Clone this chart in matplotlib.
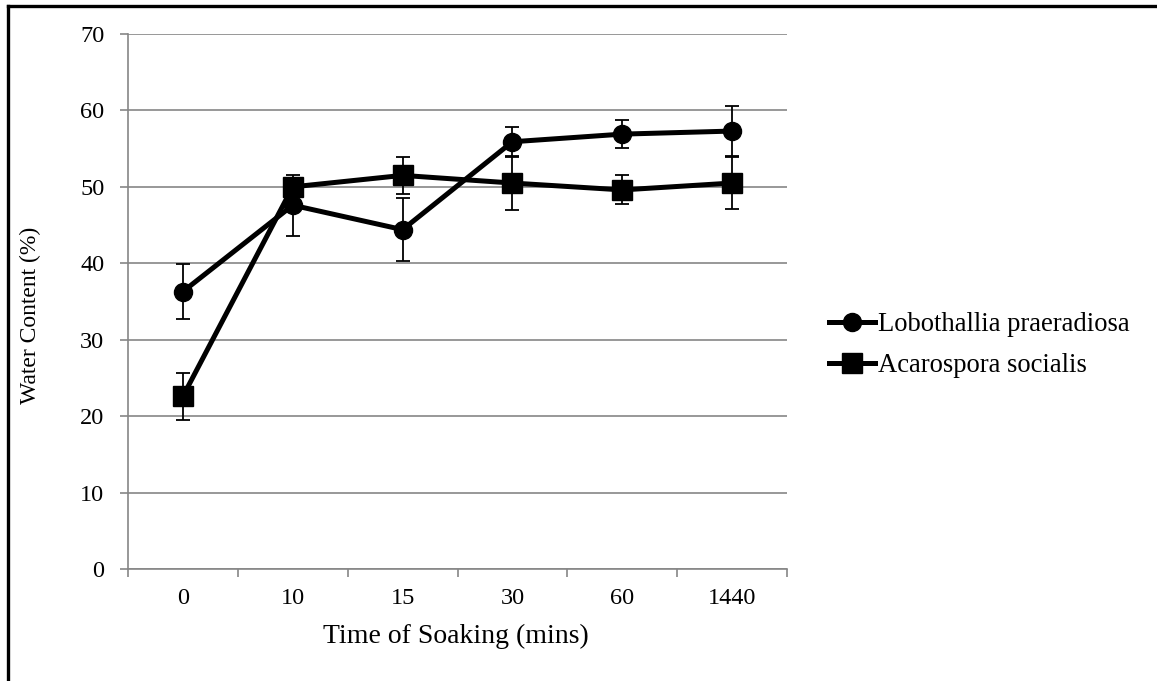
import matplotlib
matplotlib.use("Agg")
import matplotlib.pyplot as plt
from matplotlib.lines import Line2D

# values
times = ["0", "10", "15", "30", "60", "1440"]
lobo_mean = [36.3, 47.6, 44.4, 55.9, 56.9, 57.3]
lobo_err = [3.6, 4.0, 4.1, 1.95, 1.85, 3.3]
acaro_mean = [22.6, 50.0, 51.5, 50.5, 49.6, 50.5]
acaro_err = [3.1, 0.6, 2.4, 3.5, 1.9, 3.4]
yticks = [0, 10, 20, 30, 40, 50, 60, 70]

plt.rcParams["font.family"] = ["Liberation Serif", "DejaVu Serif"]
grey = "#868686"

fig = plt.figure(figsize=(11.57, 6.81), dpi=100)
ax = fig.add_axes([128 / 1157, 1 - 569 / 681, (787 - 128) / 1157, (569 - 34) / 681])

x = list(range(len(times)))
for mean, err, marker, ms, label in [
    (lobo_mean, lobo_err, "o", 13, "Lobothallia praeradiosa"),
    (acaro_mean, acaro_err, "s", 14, "Acarospora socialis"),
]:
    ax.errorbar(x, mean, yerr=err, fmt="none", ecolor="black", elinewidth=1.3,
                capsize=4.7, capthick=1.3, zorder=4)
    ax.plot(x, mean, color="black", lw=3.6, marker=marker, ms=ms,
            label=label, zorder=3)

ax.set_xlim(-0.5, len(times) - 0.5)
ax.set_ylim(0, 70)
ax.set_yticks(yticks)
ax.set_xticks(x)
ax.set_xticklabels(times)
ax.set_xticks([i - 0.5 for i in range(len(times) + 1)], minor=True)
ax.tick_params(axis="x", which="major", length=0, pad=14, labelsize=17.5)
ax.tick_params(axis="x", which="minor", length=6, color=grey, width=1.2)
ax.tick_params(axis="y", length=6, color=grey, width=1.2, pad=11, labelsize=17.5)

ax.grid(axis="y", color=grey, lw=1.2, zorder=0)
ax.set_axisbelow(True)
for s in ["top", "right"]:
    ax.spines[s].set_visible(False)
for s in ["left", "bottom"]:
    ax.spines[s].set_color(grey)
    ax.spines[s].set_linewidth(1.2)

ax.set_xlabel("Time of Soaking (mins)", fontsize=20)
ax.set_ylabel("Water Content (%)", fontsize=17)
ax.xaxis.set_label_coords(0.498, -0.103)
ax.yaxis.set_label_coords(-0.132, 0.475)

ax.legend(loc="center left", bbox_to_anchor=(818 / 1157, 1 - 345 / 681),
          bbox_transform=fig.transFigure, frameon=False, fontsize=19.2,
          handlelength=1.75, handletextpad=0.1, labelspacing=0.6,
          borderaxespad=0)

# outer frame (top and left edges only)
fig.add_artist(Line2D([8 / 1157, 1], [1 - 6 / 681] * 2, color="black", lw=2.4,
                      transform=fig.transFigure))
fig.add_artist(Line2D([8 / 1157] * 2, [0, 1 - 6 / 681], color="black", lw=2.4,
                      transform=fig.transFigure))

fig.savefig("out.png", dpi=100)
